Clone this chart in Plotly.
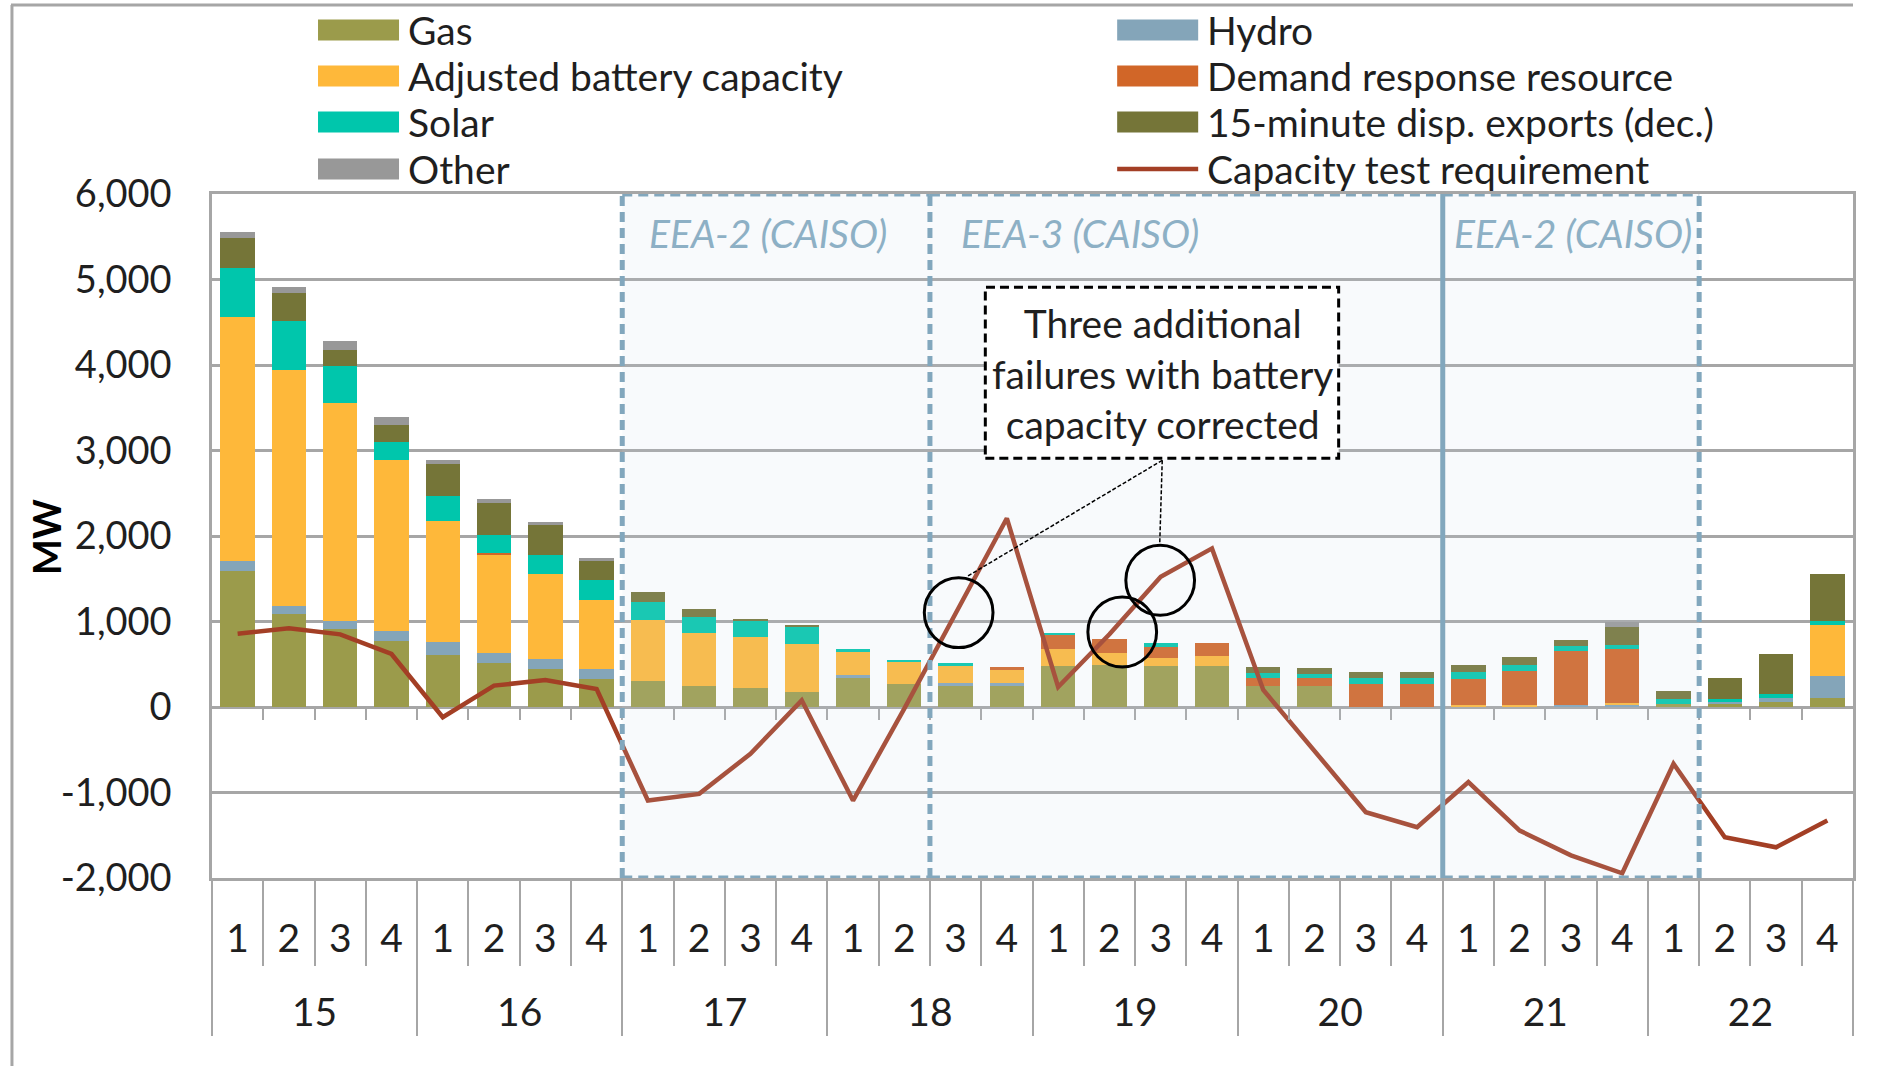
import plotly.graph_objects as go

# ---------------- data ----------------
hours = ["15", "16", "17", "18", "19", "20", "21", "22"]
intervals = ["1", "2", "3", "4"]

gas = [1588, 1083, 917, 772, 606, 513, 444, 323, 300, 250, 223, 176, 350, 273, 256, 256,
       482, 490, 485, 485, 250, 246, 0, 0, 0, 0, 0, 0, 30, 30, 62, 105]
hydro = [117, 97, 93, 121, 149, 117, 117, 117, 0, 0, 0, 0, 23, 0, 20, 20,
         0, 0, 0, 0, 0, 0, 0, 0, 0, 0, 25, 25, 0, 28, 43, 258]
battery = [2853, 2760, 2549, 1996, 1422, 1152, 998, 812, 715, 617, 598, 566, 281, 254, 211, 164,
           195, 145, 94, 117, 0, 0, 0, 0, 25, 23, 0, 20, 0, 0, 0, 594]
demand_response = [0, 0, 0, 0, 0, 20, 0, 0, 0, 0, 0, 0, 0, 0, 0, 23,
                   164, 156, 117, 141, 94, 94, 270, 270, 305, 398, 633, 637, 0, 0, 0, 0]
solar = [574, 574, 428, 214, 291, 210, 218, 238, 215, 191, 191, 195, 23, 27, 23, 0,
         27, 0, 47, 0, 51, 51, 70, 70, 74, 70, 51, 47, 66, 39, 47, 51]
exports = [356, 331, 190, 198, 372, 376, 347, 214, 113, 90, 23, 27, 0, 0, 0, 0,
           0, 0, 0, 0, 70, 70, 70, 70, 86, 94, 70, 203, 86, 238, 469, 547]
other = [69, 73, 101, 93, 48, 48, 44, 40, 0, 0, 0, 0, 0, 0, 0, 0,
         0, 0, 0, 0, 0, 0, 0, 0, 0, 0, 0, 59, 0, 0, 0, 0]
capacity_test = [857, 921, 850, 620, -120, 250, 315, 210, -1094, -1016, -547, 78, -1094, -20, 1094, 2207,
                 234, 850, 1523, 1855, 200, -508, -1230, -1406, -879, -1445, -1735, -1945, -664, -1523, -1641, -1328]

y_tickvals = [-2000, -1000, 0, 1000, 2000, 3000, 4000, 5000, 6000]
y_ticktext = ["-2,000", "-1,000", "0", "1,000", "2,000", "3,000", "4,000", "5,000", "6,000"]
y_title = "MW"

region_labels = ["EEA-2 (CAISO)", "EEA-3 (CAISO)", "EEA-2 (CAISO)"]
region_first = [("17", "1"), ("18", "3"), ("21", "1")]
region_last = [("18", "2"), ("20", "4"), ("22", "1")]

callout_text = "Three additional<br>failures with battery<br>capacity corrected"
callout_points = [("18", "3"), ("19", "2"), ("19", "3")]

# ---------------- styles ----------------
FONT = "Lato, 'Open Sans', sans-serif"
TXT = "#1f1f1f"
GRID = "#A6A6A6"
REGION_LINE = "#82A7BD"
REGION_TEXT = "#8DB0C5"
LINE_COLOR = "#A33F25"

series = [
    ("Gas", gas, "#9B9B4B"),
    ("Hydro", hydro, "#84A5B9"),
    ("Adjusted battery capacity", battery, "#FEB83A"),
    ("Demand response resource", demand_response, "#D16628"),
    ("Solar", solar, "#00C6AC"),
    ("15-minute disp. exports (dec.)", exports, "#757538"),
    ("Other", other, "#989898"),
]
line_name = "Capacity test requirement"

cats = [(h, i) for h in hours for i in intervals]
x_mc = [["<br>" + c[0] for c in cats], [c[1] for c in cats]]
n = len(cats)

# plot-area geometry (pixels in the page)
PL, PT, PW, PH = 212, 194, 1640.7, 684
FIG_W, FIG_H = 1896, 1066


def px_x(p):
    return (p - PL) / PW


def px_y(p):
    return (PT + PH - p) / PH


fig = go.Figure()

for name, vals, col in series:
    fig.add_trace(go.Bar(x=x_mc, y=vals, name=name, marker=dict(color=col, line=dict(width=0)),
                         showlegend=False))

fig.add_trace(go.Scatter(x=x_mc, y=capacity_test, mode="lines", name=line_name,
                         line=dict(color=LINE_COLOR, width=4.5), showlegend=False))

shapes = []
annotations = []

# shaded EEA regions
bounds = []
for a, b in zip(region_first, region_last):
    bounds.append((cats.index(a) - 0.5, cats.index(b) + 0.5))
for x0, x1 in bounds:
    shapes.append(dict(type="rect", xref="x2", yref="y", x0=x0, x1=x1, y0=-2000, y1=6000,
                       fillcolor="rgba(200,215,232,0.13)", line=dict(width=0), layer="above"))
dash_line = dict(color=REGION_LINE, width=5, dash="10px,6px")
solid_line = dict(color=REGION_LINE, width=5)
for k, (x0, x1) in enumerate(bounds):
    for yy in (-2000, 6000):
        shapes.append(dict(type="line", xref="x2", yref="y", x0=x0, x1=x1, y0=yy, y1=yy,
                           line=dash_line, layer="above"))
    shared_left = k > 0 and abs(bounds[k - 1][1] - x0) < 1e-9
    if not shared_left:
        shapes.append(dict(type="line", xref="x2", yref="y", x0=x0, x1=x0, y0=-2000, y1=6000,
                           line=dash_line, layer="above"))
    shared_right = k < len(bounds) - 1 and abs(bounds[k + 1][0] - x1) < 1e-9
    shapes.append(dict(type="line", xref="x2", yref="y", x0=x1, x1=x1, y0=-2000, y1=6000,
                       line=(solid_line if (shared_right and k == 1) else dash_line), layer="above"))

label_x = [7.99, 14.06, 23.68]
for lab, lx in zip(region_labels, label_x):
    annotations.append(dict(x=lx, y=5540, xref="x2", yref="y", text=lab, showarrow=False,
                            xanchor="left", yanchor="middle",
                            font=dict(family=FONT, size=39, color=REGION_TEXT, style="italic")))

# callout box
shapes.append(dict(type="rect", xref="x2", yref="y", x0=14.58, x1=21.47, y0=2909, y1=4909,
                   fillcolor="white", line=dict(color="black", width=3, dash="9px,5px"), layer="above"))
annotations.append(dict(x=18.03, y=3900, xref="x2", yref="y", text=callout_text, showarrow=False,
                        xanchor="center", yanchor="middle", align="center",
                        font=dict(family=FONT, size=39, color=TXT)))

# circles around the points
circle_dx = [0.06, 0.25, -0.01]
circle_dy = [10, 27, -41]
rx, ry = 0.67, 409
for (c, dx, dy) in zip(callout_points, circle_dx, circle_dy):
    k = cats.index(c)
    cx = k + dx
    cy = capacity_test[k] + dy
    shapes.append(dict(type="circle", xref="x2", yref="y", x0=cx - rx, x1=cx + rx,
                       y0=cy - ry, y1=cy + ry, line=dict(color="black", width=3), layer="above"))

# leader lines
leader_start = (18.03, 2885)
for ex, ey in [(14.23, 1529), (17.98, 1891)]:
    shapes.append(dict(type="line", xref="x2", yref="y", x0=leader_start[0], y0=leader_start[1],
                       x1=ex, y1=ey, line=dict(color="black", width=1.5, dash="4px,2px"), layer="above"))

# outer frame of the original picture
shapes.append(dict(type="line", xref="paper", yref="paper", x0=px_x(11), x1=1.0, y0=px_y(5), y1=px_y(5),
                   line=dict(color=GRID, width=3)))
shapes.append(dict(type="line", xref="paper", yref="paper", x0=px_x(12), x1=px_x(12), y0=px_y(5), y1=px_y(1070),
                   line=dict(color=GRID, width=3)))

# y-axis title
annotations.append(dict(x=px_x(46), y=px_y(537), xref="paper", yref="paper", text=y_title,
                        textangle=-90, showarrow=False, xanchor="center", yanchor="middle",
                        font=dict(family=FONT, size=38, color="black", weight="bold")))

# legend (two columns, row-major order as in the original)
legend_items = [(name, col) for name, _, col in series] + [(line_name, LINE_COLOR)]
col_swatch_x = [318, 1117]
swatch_w = 81
row_y = [30, 76, 122, 169]
for k, (name, col) in enumerate(legend_items):
    c, r = k % 2, k // 2
    sx, yc = col_swatch_x[c], row_y[r]
    if name == line_name:
        shapes.append(dict(type="line", xref="paper", yref="paper", x0=px_x(sx), x1=px_x(sx + swatch_w),
                           y0=px_y(yc), y1=px_y(yc), line=dict(color=col, width=4.5)))
    else:
        shapes.append(dict(type="rect", xref="paper", yref="paper", x0=px_x(sx), x1=px_x(sx + swatch_w),
                           y0=px_y(yc + 10.5), y1=px_y(yc - 10.5), fillcolor=col, line=dict(width=0)))
    annotations.append(dict(x=px_x(sx + swatch_w + 7), y=px_y(yc), xref="paper", yref="paper",
                            text=name, showarrow=False, xanchor="left", yanchor="middle",
                            font=dict(family=FONT, size=39, color=TXT)))

fig.update_layout(
    width=FIG_W, height=FIG_H,
    margin=dict(l=PL, r=FIG_W - PL - PW, t=PT, b=FIG_H - PT - PH, pad=0),
    paper_bgcolor="white", plot_bgcolor="white",
    barmode="stack", bargap=0.33,
    font=dict(family=FONT, color=TXT),
    shapes=shapes, annotations=annotations,
    showlegend=False,
    yaxis=dict(range=[-2000, 6000], tickvals=y_tickvals, ticktext=y_ticktext,
               showgrid=True, gridcolor=GRID, gridwidth=2.5, zeroline=False,
               showline=True, linecolor=GRID, linewidth=2.5, mirror=True,
               ticks="", ticklabelstandoff=30,
               tickfont=dict(family=FONT, size=38, color=TXT)),
    xaxis=dict(type="multicategory", showline=True, linecolor=GRID, linewidth=2.5, mirror=True,
               ticks="outside", tickson="boundaries", ticklen=85, tickcolor=GRID, tickwidth=2,
               ticklabelstandoff=24,
               showdividers=True, dividercolor=GRID, dividerwidth=2,
               tickfont=dict(family=FONT, size=39, color=TXT), showgrid=False),
    xaxis2=dict(overlaying="x", type="linear", range=[-0.5, n - 0.5], anchor="free", position=0.25,
                side="bottom", showgrid=False, zeroline=False, showline=False, showticklabels=False,
                ticks="outside", ticklen=12, tickcolor=GRID, tickwidth=2,
                tickmode="array", tickvals=[k + 0.5 for k in range(n - 1)]),
)

fig.write_html("out.html", config={"displayModeBar": False},
               post_script="document.body.style.margin='0px';")
